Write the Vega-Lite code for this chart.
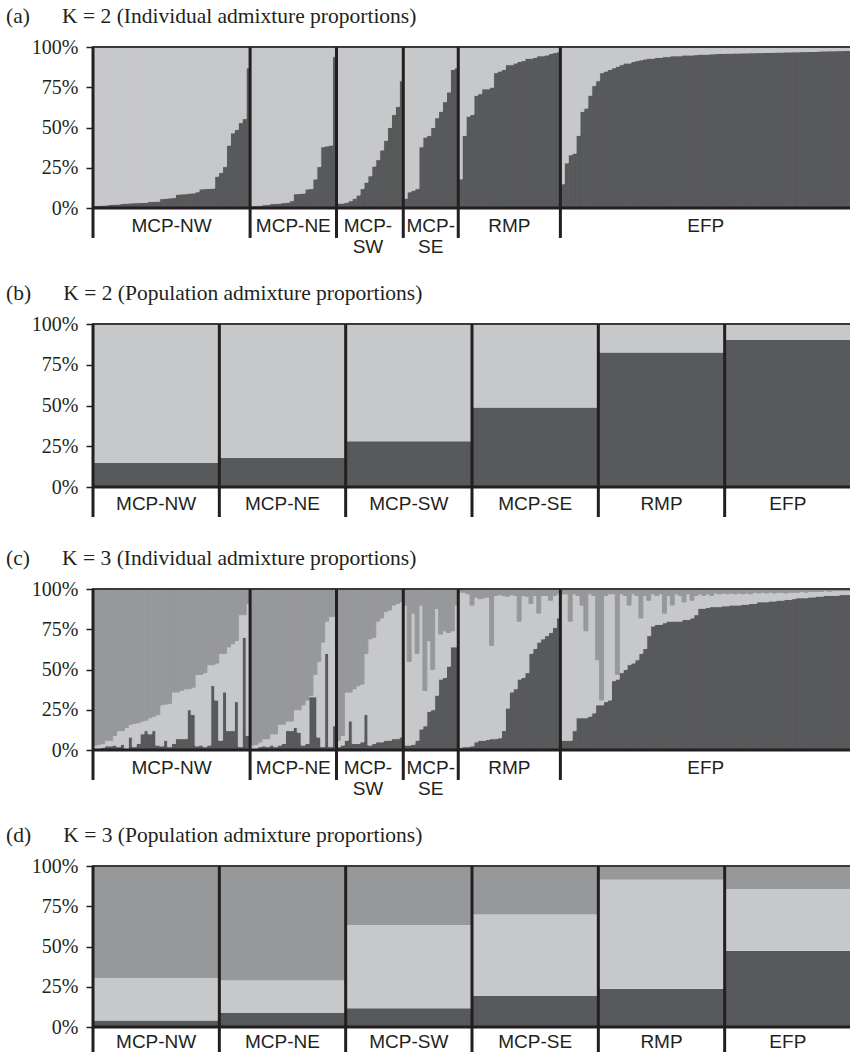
{
  "$schema": "https://vega.github.io/schema/vega-lite/v6.json",
  "background": "white",
  "padding": {"left": 5, "top": 4, "right": 0, "bottom": 0},
  "config": {
    "view": {"stroke": "#3a3a3a", "strokeWidth": 2},
    "title": {"font": "Liberation Serif", "fontSize": 21.5, "fontWeight": "normal", "color": "#231f20", "anchor": "start", "frame": "group", "dx": -87, "offset": 10, "baseline": "alphabetic"},
    "axisY": {"labelFont": "Liberation Serif", "labelFontSize": 20, "labelColor": "#231f20", "tickColor": "#231f20", "tickSize": 7, "tickWidth": 1.5, "labelPadding": 8, "labelOverlap": false, "labelSeparation": -6, "domain": false, "grid": false},
    "text": {"font": "Liberation Sans", "fontSize": 19, "color": "#231f20", "lineBreak": "\n", "lineHeight": 21, "baseline": "alphabetic"}
  },
  "datasets": {
    "ia": [
      {"i":1,"pop":"MCP-NW","d":0.015},{"i":2,"pop":"MCP-NW","d":0.016},{"i":3,"pop":"MCP-NW","d":0.017},{"i":4,"pop":"MCP-NW","d":0.018},{"i":5,"pop":"MCP-NW","d":0.022},{"i":6,"pop":"MCP-NW","d":0.023},{"i":7,"pop":"MCP-NW","d":0.024},{"i":8,"pop":"MCP-NW","d":0.028},{"i":9,"pop":"MCP-NW","d":0.029},{"i":10,"pop":"MCP-NW","d":0.031},
      {"i":11,"pop":"MCP-NW","d":0.032},{"i":12,"pop":"MCP-NW","d":0.033},{"i":13,"pop":"MCP-NW","d":0.034},{"i":14,"pop":"MCP-NW","d":0.035},{"i":15,"pop":"MCP-NW","d":0.04},{"i":16,"pop":"MCP-NW","d":0.041},{"i":17,"pop":"MCP-NW","d":0.042},{"i":18,"pop":"MCP-NW","d":0.058},{"i":19,"pop":"MCP-NW","d":0.06},{"i":20,"pop":"MCP-NW","d":0.062},
      {"i":21,"pop":"MCP-NW","d":0.064},{"i":22,"pop":"MCP-NW","d":0.085},{"i":23,"pop":"MCP-NW","d":0.087},{"i":24,"pop":"MCP-NW","d":0.088},{"i":25,"pop":"MCP-NW","d":0.092},{"i":26,"pop":"MCP-NW","d":0.093},{"i":27,"pop":"MCP-NW","d":0.1},{"i":28,"pop":"MCP-NW","d":0.118},{"i":29,"pop":"MCP-NW","d":0.12},{"i":30,"pop":"MCP-NW","d":0.121},
      {"i":31,"pop":"MCP-NW","d":0.123},{"i":32,"pop":"MCP-NW","d":0.197},{"i":33,"pop":"MCP-NW","d":0.22},{"i":34,"pop":"MCP-NW","d":0.257},{"i":35,"pop":"MCP-NW","d":0.39},{"i":36,"pop":"MCP-NW","d":0.466},{"i":37,"pop":"MCP-NW","d":0.487},{"i":38,"pop":"MCP-NW","d":0.53},{"i":39,"pop":"MCP-NW","d":0.555},{"i":40,"pop":"MCP-NW","d":0.87},
      {"i":41,"pop":"MCP-NE","d":0.013},{"i":42,"pop":"MCP-NE","d":0.014},{"i":43,"pop":"MCP-NE","d":0.015},{"i":44,"pop":"MCP-NE","d":0.02},{"i":45,"pop":"MCP-NE","d":0.021},{"i":46,"pop":"MCP-NE","d":0.027},{"i":47,"pop":"MCP-NE","d":0.028},{"i":48,"pop":"MCP-NE","d":0.03},{"i":49,"pop":"MCP-NE","d":0.033},{"i":50,"pop":"MCP-NE","d":0.035},
      {"i":51,"pop":"MCP-NE","d":0.045},{"i":52,"pop":"MCP-NE","d":0.088},{"i":53,"pop":"MCP-NE","d":0.09},{"i":54,"pop":"MCP-NE","d":0.092},{"i":55,"pop":"MCP-NE","d":0.118},{"i":56,"pop":"MCP-NE","d":0.12},{"i":57,"pop":"MCP-NE","d":0.18},{"i":58,"pop":"MCP-NE","d":0.257},{"i":59,"pop":"MCP-NE","d":0.38},{"i":60,"pop":"MCP-NE","d":0.385},
      {"i":61,"pop":"MCP-NE","d":0.39},{"i":62,"pop":"MCP-NE","d":0.94},
      {"i":63,"pop":"MCP-SW","d":0.03},{"i":64,"pop":"MCP-SW","d":0.03},{"i":65,"pop":"MCP-SW","d":0.035},{"i":66,"pop":"MCP-SW","d":0.045},{"i":67,"pop":"MCP-SW","d":0.06},{"i":68,"pop":"MCP-SW","d":0.08},{"i":69,"pop":"MCP-SW","d":0.12},{"i":70,"pop":"MCP-SW","d":0.16},
      {"i":71,"pop":"MCP-SW","d":0.2},{"i":72,"pop":"MCP-SW","d":0.26},{"i":73,"pop":"MCP-SW","d":0.3},{"i":74,"pop":"MCP-SW","d":0.36},{"i":75,"pop":"MCP-SW","d":0.42},{"i":76,"pop":"MCP-SW","d":0.5},{"i":77,"pop":"MCP-SW","d":0.58},{"i":78,"pop":"MCP-SW","d":0.63},{"i":79,"pop":"MCP-SW","d":0.79},
      {"i":80,"pop":"MCP-SE","d":0.06},{"i":81,"pop":"MCP-SE","d":0.1},{"i":82,"pop":"MCP-SE","d":0.11},{"i":83,"pop":"MCP-SE","d":0.12},{"i":84,"pop":"MCP-SE","d":0.38},{"i":85,"pop":"MCP-SE","d":0.44},{"i":86,"pop":"MCP-SE","d":0.45},{"i":87,"pop":"MCP-SE","d":0.5},{"i":88,"pop":"MCP-SE","d":0.56},{"i":89,"pop":"MCP-SE","d":0.6},
      {"i":90,"pop":"MCP-SE","d":0.66},{"i":91,"pop":"MCP-SE","d":0.72},{"i":92,"pop":"MCP-SE","d":0.86},{"i":93,"pop":"MCP-SE","d":0.87},
      {"i":94,"pop":"RMP","d":0.18},{"i":95,"pop":"RMP","d":0.45},{"i":96,"pop":"RMP","d":0.57},{"i":97,"pop":"RMP","d":0.58},{"i":98,"pop":"RMP","d":0.7},{"i":99,"pop":"RMP","d":0.71},{"i":100,"pop":"RMP","d":0.74},{"i":101,"pop":"RMP","d":0.74},{"i":102,"pop":"RMP","d":0.75},{"i":103,"pop":"RMP","d":0.84},
      {"i":104,"pop":"RMP","d":0.85},{"i":105,"pop":"RMP","d":0.86},{"i":106,"pop":"RMP","d":0.89},{"i":107,"pop":"RMP","d":0.89},{"i":108,"pop":"RMP","d":0.9},{"i":109,"pop":"RMP","d":0.91},{"i":110,"pop":"RMP","d":0.915},{"i":111,"pop":"RMP","d":0.93},{"i":112,"pop":"RMP","d":0.93},{"i":113,"pop":"RMP","d":0.935},
      {"i":114,"pop":"RMP","d":0.945},{"i":115,"pop":"RMP","d":0.945},{"i":116,"pop":"RMP","d":0.95},{"i":117,"pop":"RMP","d":0.96},{"i":118,"pop":"RMP","d":0.965},{"i":119,"pop":"RMP","d":0.97},
      {"i":120,"pop":"EFP","d":0.15},{"i":121,"pop":"EFP","d":0.28},{"i":122,"pop":"EFP","d":0.33},{"i":123,"pop":"EFP","d":0.34},{"i":124,"pop":"EFP","d":0.45},{"i":125,"pop":"EFP","d":0.6},{"i":126,"pop":"EFP","d":0.62},{"i":127,"pop":"EFP","d":0.7},{"i":128,"pop":"EFP","d":0.76},{"i":129,"pop":"EFP","d":0.79},
      {"i":130,"pop":"EFP","d":0.84},{"i":131,"pop":"EFP","d":0.85},{"i":132,"pop":"EFP","d":0.86},{"i":133,"pop":"EFP","d":0.87},{"i":134,"pop":"EFP","d":0.88},{"i":135,"pop":"EFP","d":0.89},{"i":136,"pop":"EFP","d":0.9},{"i":137,"pop":"EFP","d":0.9},{"i":138,"pop":"EFP","d":0.91},{"i":139,"pop":"EFP","d":0.915},
      {"i":140,"pop":"EFP","d":0.92},{"i":141,"pop":"EFP","d":0.925},{"i":142,"pop":"EFP","d":0.93},{"i":143,"pop":"EFP","d":0.93},{"i":144,"pop":"EFP","d":0.935},{"i":145,"pop":"EFP","d":0.935},{"i":146,"pop":"EFP","d":0.94},{"i":147,"pop":"EFP","d":0.94},{"i":148,"pop":"EFP","d":0.945},{"i":149,"pop":"EFP","d":0.945},
      {"i":150,"pop":"EFP","d":0.945},{"i":151,"pop":"EFP","d":0.95},{"i":152,"pop":"EFP","d":0.95},{"i":153,"pop":"EFP","d":0.95},{"i":154,"pop":"EFP","d":0.952},{"i":155,"pop":"EFP","d":0.955},{"i":156,"pop":"EFP","d":0.955},{"i":157,"pop":"EFP","d":0.955},{"i":158,"pop":"EFP","d":0.957},{"i":159,"pop":"EFP","d":0.958},
      {"i":160,"pop":"EFP","d":0.96},{"i":161,"pop":"EFP","d":0.96},{"i":162,"pop":"EFP","d":0.961},{"i":163,"pop":"EFP","d":0.961},{"i":164,"pop":"EFP","d":0.962},{"i":165,"pop":"EFP","d":0.962},{"i":166,"pop":"EFP","d":0.963},{"i":167,"pop":"EFP","d":0.963},{"i":168,"pop":"EFP","d":0.964},{"i":169,"pop":"EFP","d":0.964},
      {"i":170,"pop":"EFP","d":0.965},{"i":171,"pop":"EFP","d":0.965},{"i":172,"pop":"EFP","d":0.966},{"i":173,"pop":"EFP","d":0.966},{"i":174,"pop":"EFP","d":0.967},{"i":175,"pop":"EFP","d":0.968},{"i":176,"pop":"EFP","d":0.968},{"i":177,"pop":"EFP","d":0.969},{"i":178,"pop":"EFP","d":0.969},{"i":179,"pop":"EFP","d":0.97},
      {"i":180,"pop":"EFP","d":0.97},{"i":181,"pop":"EFP","d":0.971},{"i":182,"pop":"EFP","d":0.971},{"i":183,"pop":"EFP","d":0.972},{"i":184,"pop":"EFP","d":0.972},{"i":185,"pop":"EFP","d":0.973},{"i":186,"pop":"EFP","d":0.975},{"i":187,"pop":"EFP","d":0.975},{"i":188,"pop":"EFP","d":0.976},{"i":189,"pop":"EFP","d":0.976},
      {"i":190,"pop":"EFP","d":0.977},{"i":191,"pop":"EFP","d":0.977},{"i":192,"pop":"EFP","d":0.978},{"i":193,"pop":"EFP","d":0.978}
    ],
    "ic": [
      {"i":1,"pop":"MCP-NW","d":0.01,"l":0.03},{"i":2,"pop":"MCP-NW","d":0.01,"l":0.035},{"i":3,"pop":"MCP-NW","d":0.015,"l":0.04},{"i":4,"pop":"MCP-NW","d":0.025,"l":0.06},{"i":5,"pop":"MCP-NW","d":0.025,"l":0.06},{"i":6,"pop":"MCP-NW","d":0.03,"l":0.09},{"i":7,"pop":"MCP-NW","d":0.02,"l":0.12},{"i":8,"pop":"MCP-NW","d":0.035,"l":0.12},{"i":9,"pop":"MCP-NW","d":0.01,"l":0.14},{"i":10,"pop":"MCP-NW","d":0.08,"l":0.16},
      {"i":11,"pop":"MCP-NW","d":0.02,"l":0.165},{"i":12,"pop":"MCP-NW","d":0.04,"l":0.17},{"i":13,"pop":"MCP-NW","d":0.1,"l":0.18},{"i":14,"pop":"MCP-NW","d":0.12,"l":0.185},{"i":15,"pop":"MCP-NW","d":0.1,"l":0.2},{"i":16,"pop":"MCP-NW","d":0.12,"l":0.21},{"i":17,"pop":"MCP-NW","d":0.03,"l":0.22},{"i":18,"pop":"MCP-NW","d":0.025,"l":0.28},{"i":19,"pop":"MCP-NW","d":0.06,"l":0.285},{"i":20,"pop":"MCP-NW","d":0.02,"l":0.29},
      {"i":21,"pop":"MCP-NW","d":0.04,"l":0.36},{"i":22,"pop":"MCP-NW","d":0.07,"l":0.36},{"i":23,"pop":"MCP-NW","d":0.07,"l":0.37},{"i":24,"pop":"MCP-NW","d":0.07,"l":0.38},{"i":25,"pop":"MCP-NW","d":0.25,"l":0.38},{"i":26,"pop":"MCP-NW","d":0.22,"l":0.39},{"i":27,"pop":"MCP-NW","d":0.025,"l":0.47},{"i":28,"pop":"MCP-NW","d":0.03,"l":0.47},{"i":29,"pop":"MCP-NW","d":0.02,"l":0.48},{"i":30,"pop":"MCP-NW","d":0.03,"l":0.53},
      {"i":31,"pop":"MCP-NW","d":0.4,"l":0.53},{"i":32,"pop":"MCP-NW","d":0.31,"l":0.54},{"i":33,"pop":"MCP-NW","d":0.06,"l":0.6},{"i":34,"pop":"MCP-NW","d":0.36,"l":0.6},{"i":35,"pop":"MCP-NW","d":0.12,"l":0.64},{"i":36,"pop":"MCP-NW","d":0.12,"l":0.66},{"i":37,"pop":"MCP-NW","d":0.3,"l":0.68},{"i":38,"pop":"MCP-NW","d":0.02,"l":0.84},{"i":39,"pop":"MCP-NW","d":0.7,"l":0.84},{"i":40,"pop":"MCP-NW","d":0.09,"l":0.91},
      {"i":41,"pop":"MCP-NE","d":0.01,"l":0.03},{"i":42,"pop":"MCP-NE","d":0.01,"l":0.035},{"i":43,"pop":"MCP-NE","d":0.02,"l":0.05},{"i":44,"pop":"MCP-NE","d":0.025,"l":0.07},{"i":45,"pop":"MCP-NE","d":0.02,"l":0.07},{"i":46,"pop":"MCP-NE","d":0.03,"l":0.1},{"i":47,"pop":"MCP-NE","d":0.02,"l":0.1},{"i":48,"pop":"MCP-NE","d":0.03,"l":0.16},{"i":49,"pop":"MCP-NE","d":0.04,"l":0.16},{"i":50,"pop":"MCP-NE","d":0.12,"l":0.18},
      {"i":51,"pop":"MCP-NE","d":0.12,"l":0.18},{"i":52,"pop":"MCP-NE","d":0.14,"l":0.25},{"i":53,"pop":"MCP-NE","d":0.11,"l":0.25},{"i":54,"pop":"MCP-NE","d":0.03,"l":0.28},{"i":55,"pop":"MCP-NE","d":0.04,"l":0.31},{"i":56,"pop":"MCP-NE","d":0.33,"l":0.34},{"i":57,"pop":"MCP-NE","d":0.33,"l":0.47},{"i":58,"pop":"MCP-NE","d":0.08,"l":0.55},{"i":59,"pop":"MCP-NE","d":0.02,"l":0.67},{"i":60,"pop":"MCP-NE","d":0.6,"l":0.8},
      {"i":61,"pop":"MCP-NE","d":0.02,"l":0.83},{"i":62,"pop":"MCP-NE","d":0.15,"l":0.83},
      {"i":63,"pop":"MCP-SW","d":0.02,"l":0.06},{"i":64,"pop":"MCP-SW","d":0.03,"l":0.09},{"i":65,"pop":"MCP-SW","d":0.06,"l":0.36},{"i":66,"pop":"MCP-SW","d":0.18,"l":0.36},{"i":67,"pop":"MCP-SW","d":0.04,"l":0.38},{"i":68,"pop":"MCP-SW","d":0.04,"l":0.4},{"i":69,"pop":"MCP-SW","d":0.05,"l":0.41},{"i":70,"pop":"MCP-SW","d":0.22,"l":0.6},
      {"i":71,"pop":"MCP-SW","d":0.03,"l":0.69},{"i":72,"pop":"MCP-SW","d":0.04,"l":0.7},{"i":73,"pop":"MCP-SW","d":0.05,"l":0.8},{"i":74,"pop":"MCP-SW","d":0.05,"l":0.82},{"i":75,"pop":"MCP-SW","d":0.06,"l":0.86},{"i":76,"pop":"MCP-SW","d":0.06,"l":0.87},{"i":77,"pop":"MCP-SW","d":0.07,"l":0.9},{"i":78,"pop":"MCP-SW","d":0.07,"l":0.91},{"i":79,"pop":"MCP-SW","d":0.08,"l":0.92},
      {"i":80,"pop":"MCP-SE","d":0.03,"l":0.9},{"i":81,"pop":"MCP-SE","d":0.03,"l":0.55},{"i":82,"pop":"MCP-SE","d":0.035,"l":0.85},{"i":83,"pop":"MCP-SE","d":0.06,"l":0.6},{"i":84,"pop":"MCP-SE","d":0.13,"l":0.9},{"i":85,"pop":"MCP-SE","d":0.15,"l":0.37},{"i":86,"pop":"MCP-SE","d":0.24,"l":0.68},{"i":87,"pop":"MCP-SE","d":0.25,"l":0.5},{"i":88,"pop":"MCP-SE","d":0.34,"l":0.88},{"i":89,"pop":"MCP-SE","d":0.44,"l":0.72},
      {"i":90,"pop":"MCP-SE","d":0.45,"l":0.74},{"i":91,"pop":"MCP-SE","d":0.52,"l":0.73},{"i":92,"pop":"MCP-SE","d":0.64,"l":0.74},{"i":93,"pop":"MCP-SE","d":0.64,"l":0.9},
      {"i":94,"pop":"RMP","d":0.015,"l":0.98},{"i":95,"pop":"RMP","d":0.02,"l":0.98},{"i":96,"pop":"RMP","d":0.02,"l":0.97},{"i":97,"pop":"RMP","d":0.025,"l":0.9},{"i":98,"pop":"RMP","d":0.05,"l":0.95},{"i":99,"pop":"RMP","d":0.06,"l":0.94},{"i":100,"pop":"RMP","d":0.06,"l":0.945},{"i":101,"pop":"RMP","d":0.065,"l":0.95},{"i":102,"pop":"RMP","d":0.07,"l":0.65},{"i":103,"pop":"RMP","d":0.07,"l":0.96},
      {"i":104,"pop":"RMP","d":0.075,"l":0.965},{"i":105,"pop":"RMP","d":0.12,"l":0.96},{"i":106,"pop":"RMP","d":0.26,"l":0.955},{"i":107,"pop":"RMP","d":0.36,"l":0.965},{"i":108,"pop":"RMP","d":0.38,"l":0.96},{"i":109,"pop":"RMP","d":0.44,"l":0.8},{"i":110,"pop":"RMP","d":0.45,"l":0.96},{"i":111,"pop":"RMP","d":0.48,"l":0.955},{"i":112,"pop":"RMP","d":0.6,"l":0.91},{"i":113,"pop":"RMP","d":0.63,"l":0.96},
      {"i":114,"pop":"RMP","d":0.67,"l":0.85},{"i":115,"pop":"RMP","d":0.69,"l":0.96},{"i":116,"pop":"RMP","d":0.71,"l":0.96},{"i":117,"pop":"RMP","d":0.73,"l":0.93},{"i":118,"pop":"RMP","d":0.76,"l":0.96},{"i":119,"pop":"RMP","d":0.82,"l":0.97},
      {"i":120,"pop":"EFP","d":0.06,"l":0.97},{"i":121,"pop":"EFP","d":0.06,"l":0.97},{"i":122,"pop":"EFP","d":0.06,"l":0.8},{"i":123,"pop":"EFP","d":0.12,"l":0.97},{"i":124,"pop":"EFP","d":0.2,"l":0.96},{"i":125,"pop":"EFP","d":0.2,"l":0.9},{"i":126,"pop":"EFP","d":0.2,"l":0.74},{"i":127,"pop":"EFP","d":0.21,"l":0.97},{"i":128,"pop":"EFP","d":0.23,"l":0.96},{"i":129,"pop":"EFP","d":0.28,"l":0.56},
      {"i":130,"pop":"EFP","d":0.28,"l":0.31},{"i":131,"pop":"EFP","d":0.3,"l":0.96},{"i":132,"pop":"EFP","d":0.31,"l":0.97},{"i":133,"pop":"EFP","d":0.43,"l":0.97},{"i":134,"pop":"EFP","d":0.44,"l":0.47},{"i":135,"pop":"EFP","d":0.48,"l":0.97},{"i":136,"pop":"EFP","d":0.5,"l":0.96},{"i":137,"pop":"EFP","d":0.53,"l":0.9},{"i":138,"pop":"EFP","d":0.54,"l":0.97},{"i":139,"pop":"EFP","d":0.56,"l":0.96},
      {"i":140,"pop":"EFP","d":0.6,"l":0.82},{"i":141,"pop":"EFP","d":0.63,"l":0.96},{"i":142,"pop":"EFP","d":0.71,"l":0.93},{"i":143,"pop":"EFP","d":0.77,"l":0.97},{"i":144,"pop":"EFP","d":0.78,"l":0.96},{"i":145,"pop":"EFP","d":0.78,"l":0.97},{"i":146,"pop":"EFP","d":0.79,"l":0.85},{"i":147,"pop":"EFP","d":0.8,"l":0.96},{"i":148,"pop":"EFP","d":0.8,"l":0.9},{"i":149,"pop":"EFP","d":0.8,"l":0.97},
      {"i":150,"pop":"EFP","d":0.8,"l":0.96},{"i":151,"pop":"EFP","d":0.81,"l":0.92},{"i":152,"pop":"EFP","d":0.81,"l":0.97},{"i":153,"pop":"EFP","d":0.82,"l":0.93},{"i":154,"pop":"EFP","d":0.84,"l":0.96},{"i":155,"pop":"EFP","d":0.88,"l":0.97},{"i":156,"pop":"EFP","d":0.88,"l":0.96},{"i":157,"pop":"EFP","d":0.885,"l":0.97},{"i":158,"pop":"EFP","d":0.89,"l":0.96},{"i":159,"pop":"EFP","d":0.89,"l":0.975},
      {"i":160,"pop":"EFP","d":0.89,"l":0.97},{"i":161,"pop":"EFP","d":0.895,"l":0.975},{"i":162,"pop":"EFP","d":0.895,"l":0.97},{"i":163,"pop":"EFP","d":0.9,"l":0.975},{"i":164,"pop":"EFP","d":0.9,"l":0.97},{"i":165,"pop":"EFP","d":0.9,"l":0.975},{"i":166,"pop":"EFP","d":0.905,"l":0.97},{"i":167,"pop":"EFP","d":0.905,"l":0.975},{"i":168,"pop":"EFP","d":0.91,"l":0.97},{"i":169,"pop":"EFP","d":0.91,"l":0.98},
      {"i":170,"pop":"EFP","d":0.92,"l":0.975},{"i":171,"pop":"EFP","d":0.92,"l":0.98},{"i":172,"pop":"EFP","d":0.92,"l":0.975},{"i":173,"pop":"EFP","d":0.925,"l":0.98},{"i":174,"pop":"EFP","d":0.925,"l":0.975},{"i":175,"pop":"EFP","d":0.93,"l":0.98},{"i":176,"pop":"EFP","d":0.93,"l":0.98},{"i":177,"pop":"EFP","d":0.935,"l":0.975},{"i":178,"pop":"EFP","d":0.935,"l":0.98},{"i":179,"pop":"EFP","d":0.94,"l":0.98},
      {"i":180,"pop":"EFP","d":0.945,"l":0.98},{"i":181,"pop":"EFP","d":0.945,"l":0.985},{"i":182,"pop":"EFP","d":0.945,"l":0.98},{"i":183,"pop":"EFP","d":0.95,"l":0.985},{"i":184,"pop":"EFP","d":0.95,"l":0.985},{"i":185,"pop":"EFP","d":0.955,"l":0.985},{"i":186,"pop":"EFP","d":0.955,"l":0.985},{"i":187,"pop":"EFP","d":0.96,"l":0.99},{"i":188,"pop":"EFP","d":0.96,"l":0.985},{"i":189,"pop":"EFP","d":0.96,"l":0.99},
      {"i":190,"pop":"EFP","d":0.96,"l":0.99},{"i":191,"pop":"EFP","d":0.965,"l":0.99},{"i":192,"pop":"EFP","d":0.965,"l":0.99},{"i":193,"pop":"EFP","d":0.965,"l":0.99}
    ],
    "indGroups": [
      {"start":1,"mid":21,"label":"MCP-NW"},
      {"start":41,"mid":52,"label":"MCP-NE"},
      {"start":63,"mid":71,"label":"MCP-\nSW"},
      {"start":80,"mid":87,"label":"MCP-\nSE"},
      {"start":94,"mid":107,"label":"RMP"},
      {"start":120,"mid":157,"label":"EFP"}
    ],
    "pb": [
      {"pop":"MCP-NW","d":0.148},
      {"pop":"MCP-NE","d":0.179},
      {"pop":"MCP-SW","d":0.281},
      {"pop":"MCP-SE","d":0.487},
      {"pop":"RMP","d":0.825},
      {"pop":"EFP","d":0.903}
    ],
    "pd": [
      {"pop":"MCP-NW","d":0.04,"l":0.304},
      {"pop":"MCP-NE","d":0.087,"l":0.289},
      {"pop":"MCP-SW","d":0.117,"l":0.634},
      {"pop":"MCP-SE","d":0.194,"l":0.698},
      {"pop":"RMP","d":0.238,"l":0.915},
      {"pop":"EFP","d":0.474,"l":0.857}
    ]
  },
  "spacing": 0,
  "bounds": "flush",
  "vconcat": [
    {
      "width": 758, "height": 161,
      "title": {"text": "(a)\u00a0\u00a0\u00a0\u00a0\u00a0\u00a0K = 2 (Individual admixture proportions)"},
      "layer": [
        {"data": {"name": "ia"}, "mark": {"type": "bar", "color": "#58595b", "stroke": "#58595b", "strokeWidth": 1},
         "encoding": {"x": {"field": "i", "type": "ordinal", "axis": null, "scale": {"paddingInner": 0, "paddingOuter": 0}},
                      "y": {"field": "d", "type": "quantitative", "title": null, "scale": {"domain": [0, 1], "nice": false}, "axis": {"values": [0, 0.25, 0.5, 0.75, 1], "format": "%", "labelOverlap": false}}}},
        {"data": {"name": "ia"}, "mark": {"type": "bar", "color": "#c7c8ca", "stroke": "#c7c8ca", "strokeWidth": 1},
         "encoding": {"x": {"field": "i", "type": "ordinal"}, "y": {"field": "d", "type": "quantitative", "title": null}, "y2": {"datum": 1}}},
        {"data": {"values": [{}]}, "mark": {"type": "rule", "color": "#231f20", "strokeWidth": 3}, "encoding": {"y": {"datum": 0}}},
        {"data": {"values": [{}]}, "mark": {"type": "rule", "color": "#3a3a3a", "strokeWidth": 2}, "encoding": {"y": {"datum": 1}}},
        {"data": {"name": "indGroups"}, "mark": {"type": "rule", "color": "#231f20", "strokeWidth": 3, "clip": false},
         "encoding": {"x": {"field": "start", "type": "ordinal", "bandPosition": 0}, "y": {"datum": 1}, "y2": {"datum": -0.186}}},
        {"data": {"name": "indGroups"}, "mark": {"type": "text", "clip": false},
         "encoding": {"x": {"field": "mid", "type": "ordinal", "bandPosition": 0}, "y": {"datum": -0.146}, "text": {"field": "label"}}}
      ]
    },
    {"width": 758, "height": 116, "view": {"stroke": null}, "data": {"values": []}, "mark": {"type": "point"}, "encoding": {}},
    {
      "width": 758, "height": 163,
      "title": {"text": "(b)\u00a0\u00a0\u00a0\u00a0\u00a0\u00a0K = 2 (Population admixture proportions)"},
      "layer": [
        {"data": {"name": "pb"}, "mark": {"type": "bar", "color": "#58595b"},
         "encoding": {"x": {"field": "pop", "type": "nominal", "sort": null, "axis": null, "scale": {"paddingInner": 0, "paddingOuter": 0}},
                      "y": {"field": "d", "type": "quantitative", "title": null, "scale": {"domain": [0, 1], "nice": false}, "axis": {"values": [0, 0.25, 0.5, 0.75, 1], "format": "%", "labelOverlap": false}}}},
        {"data": {"name": "pb"}, "mark": {"type": "bar", "color": "#c7c8ca"},
         "encoding": {"x": {"field": "pop", "type": "nominal", "sort": null}, "y": {"field": "d", "type": "quantitative", "title": null}, "y2": {"datum": 1}}},
        {"data": {"values": [{}]}, "mark": {"type": "rule", "color": "#231f20", "strokeWidth": 3}, "encoding": {"y": {"datum": 0}}},
        {"data": {"values": [{}]}, "mark": {"type": "rule", "color": "#3a3a3a", "strokeWidth": 2}, "encoding": {"y": {"datum": 1}}},
        {"data": {"name": "pb"}, "mark": {"type": "rule", "color": "#231f20", "strokeWidth": 3, "clip": false},
         "encoding": {"x": {"field": "pop", "type": "nominal", "sort": null, "bandPosition": 0}, "y": {"datum": 1}, "y2": {"datum": -0.184}}},
        {"data": {"name": "pb"}, "mark": {"type": "text", "clip": false},
         "encoding": {"x": {"field": "pop", "type": "nominal", "sort": null}, "y": {"datum": -0.144}, "text": {"field": "pop"}}}
      ]
    },
    {"width": 758, "height": 102, "view": {"stroke": null}, "data": {"values": []}, "mark": {"type": "point"}, "encoding": {}},
    {
      "width": 758, "height": 161,
      "title": {"text": "(c)\u00a0\u00a0\u00a0\u00a0\u00a0\u00a0K = 3 (Individual admixture proportions)"},
      "layer": [
        {"data": {"name": "ic"}, "mark": {"type": "bar", "color": "#58595b", "stroke": "#58595b", "strokeWidth": 1},
         "encoding": {"x": {"field": "i", "type": "ordinal", "axis": null, "scale": {"paddingInner": 0, "paddingOuter": 0}},
                      "y": {"field": "d", "type": "quantitative", "title": null, "scale": {"domain": [0, 1], "nice": false}, "axis": {"values": [0, 0.25, 0.5, 0.75, 1], "format": "%", "labelOverlap": false}}}},
        {"data": {"name": "ic"}, "mark": {"type": "bar", "color": "#c7c8ca", "stroke": "#c7c8ca", "strokeWidth": 1},
         "encoding": {"x": {"field": "i", "type": "ordinal"}, "y": {"field": "d", "type": "quantitative", "title": null}, "y2": {"field": "l"}}},
        {"data": {"name": "ic"}, "mark": {"type": "bar", "color": "#97989a", "stroke": "#97989a", "strokeWidth": 1},
         "encoding": {"x": {"field": "i", "type": "ordinal"}, "y": {"field": "l", "type": "quantitative", "title": null}, "y2": {"datum": 1}}},
        {"data": {"values": [{}]}, "mark": {"type": "rule", "color": "#231f20", "strokeWidth": 3}, "encoding": {"y": {"datum": 0}}},
        {"data": {"values": [{}]}, "mark": {"type": "rule", "color": "#3a3a3a", "strokeWidth": 2}, "encoding": {"y": {"datum": 1}}},
        {"data": {"name": "indGroups"}, "mark": {"type": "rule", "color": "#231f20", "strokeWidth": 3, "clip": false},
         "encoding": {"x": {"field": "start", "type": "ordinal", "bandPosition": 0}, "y": {"datum": 1}, "y2": {"datum": -0.186}}},
        {"data": {"name": "indGroups"}, "mark": {"type": "text", "clip": false},
         "encoding": {"x": {"field": "mid", "type": "ordinal", "bandPosition": 0}, "y": {"datum": -0.146}, "text": {"field": "label"}}}
      ]
    },
    {"width": 758, "height": 116, "view": {"stroke": null}, "data": {"values": []}, "mark": {"type": "point"}, "encoding": {}},
    {
      "width": 758, "height": 161,
      "title": {"text": "(d)\u00a0\u00a0\u00a0\u00a0\u00a0\u00a0K = 3 (Population admixture proportions)"},
      "layer": [
        {"data": {"name": "pd"}, "mark": {"type": "bar", "color": "#58595b"},
         "encoding": {"x": {"field": "pop", "type": "nominal", "sort": null, "axis": null, "scale": {"paddingInner": 0, "paddingOuter": 0}},
                      "y": {"field": "d", "type": "quantitative", "title": null, "scale": {"domain": [0, 1], "nice": false}, "axis": {"values": [0, 0.25, 0.5, 0.75, 1], "format": "%", "labelOverlap": false}}}},
        {"data": {"name": "pd"}, "mark": {"type": "bar", "color": "#c7c8ca"},
         "encoding": {"x": {"field": "pop", "type": "nominal", "sort": null}, "y": {"field": "d", "type": "quantitative", "title": null}, "y2": {"field": "l"}}},
        {"data": {"name": "pd"}, "mark": {"type": "bar", "color": "#97989a"},
         "encoding": {"x": {"field": "pop", "type": "nominal", "sort": null}, "y": {"field": "l", "type": "quantitative", "title": null}, "y2": {"datum": 1}}},
        {"data": {"values": [{}]}, "mark": {"type": "rule", "color": "#231f20", "strokeWidth": 3}, "encoding": {"y": {"datum": 0}}},
        {"data": {"values": [{}]}, "mark": {"type": "rule", "color": "#3a3a3a", "strokeWidth": 2}, "encoding": {"y": {"datum": 1}}},
        {"data": {"name": "pd"}, "mark": {"type": "rule", "color": "#231f20", "strokeWidth": 3, "clip": false},
         "encoding": {"x": {"field": "pop", "type": "nominal", "sort": null, "bandPosition": 0}, "y": {"datum": 1}, "y2": {"datum": -0.19}}},
        {"data": {"name": "pd"}, "mark": {"type": "text", "clip": false},
         "encoding": {"x": {"field": "pop", "type": "nominal", "sort": null}, "y": {"datum": -0.13}, "text": {"field": "pop"}}}
      ]
    }
  ]
}
